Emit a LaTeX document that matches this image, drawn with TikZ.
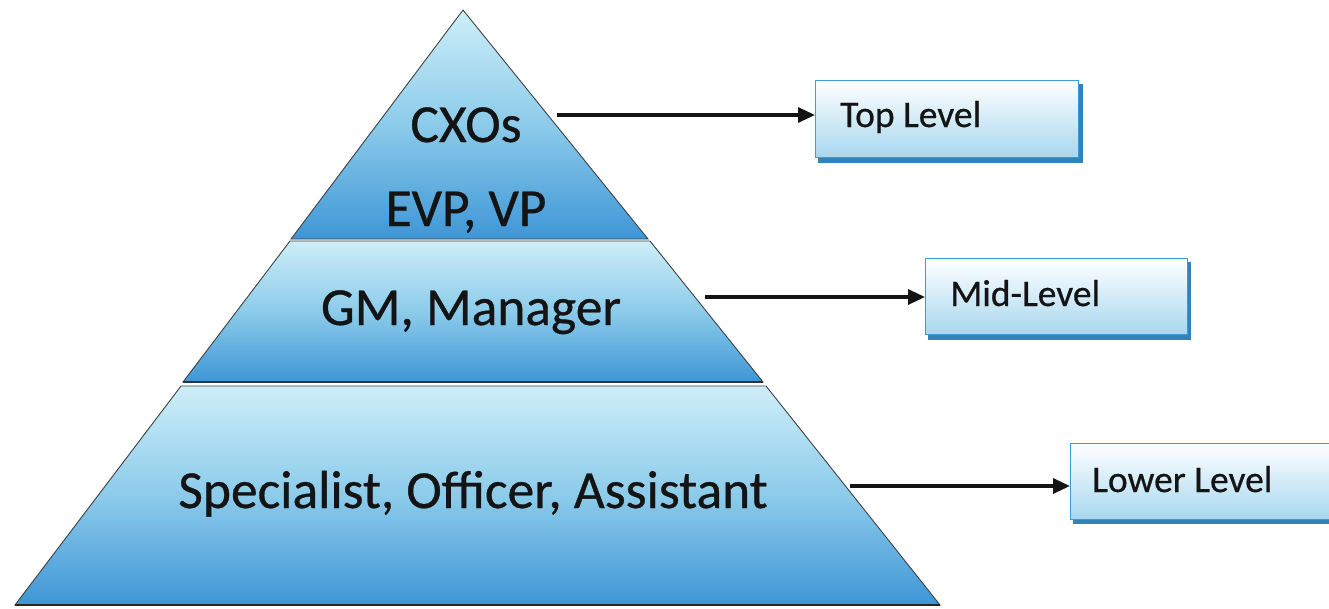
\documentclass[tikz,border=0pt]{standalone}
\usepackage{fontspec}
\setmainfont{Carlito}
\newfontfamily\heavyfont[FakeBold=0.6]{Carlito}
\usetikzlibrary{arrows.meta}
\definecolor{tiertop}{HTML}{CDEEF8}
\definecolor{tiermid}{HTML}{8CCBEA}
\definecolor{tierbot}{HTML}{3E96D6}
\definecolor{boxblue}{HTML}{3A9ADA}
\definecolor{boxfill}{HTML}{A6D7EF}
\definecolor{inkc}{HTML}{141414}
\begin{document}
\begin{tikzpicture}[x=1pt,y=-1pt,
  tier/.style={draw=black!75, line width=0.9pt, top color=tiertop, bottom color=tierbot, middle color=tiermid},
  lvl/.style={font=\heavyfont\fontsize{53.5}{53.5}\selectfont, text=inkc, anchor=base, inner sep=0pt},
  lbl/.style={font=\heavyfont\fontsize{37.5}{37.5}\selectfont, text=inkc, anchor=base west, inner sep=0pt},
  lvlbox/.style={draw=boxblue, line width=1.3pt, top color=white, bottom color=boxfill, anchor=north west, inner sep=0pt},
  boxshadow/.style={fill=boxblue!85!black, draw=none},
  conn/.style={-{Triangle[length=17pt,width=15pt]}, line width=3.2pt, draw=inkc}
]
\useasboundingbox (0,0) rectangle (1329,608);
\fill[white] (0,0) rectangle (1329,608);

% pyramid tiers
\path[tier] (463,10) -- (648,239) -- (291,239) -- cycle;
\path[tier] (290,241) -- (650,241) -- (763,382) -- (183,382) -- cycle;
\path[tier] (181,386) -- (766,386) -- (940,605) -- (15,605) -- cycle;
\draw[line width=2.2pt, draw=black!80] (183,382) -- (763,382);
\draw[line width=2.2pt, draw=black!85] (15,605) -- (940,605);

% level texts
\node[lvl] (cxo) at (466,142) {CXOs};
\node[lvl] (evp) at (466,226) {EVP, VP};
\node[lvl] (gm) at (471,325) {GM, Manager};
\node[lvl] (spec) at (473,508) {Specialist, Officer, Assistant};

% boxes with shadows
\fill[boxshadow] (818,84) rectangle (1083,163);
\node[lvlbox, minimum width=263pt, minimum height=77pt] (top) at (815,80) {};
\node[lbl] (toplbl) at (840,127) {Top Level};

\fill[boxshadow] (928,262) rectangle (1191,340);
\node[lvlbox, minimum width=262pt, minimum height=76pt] (mid) at (925,258) {};
\node[lbl] (midlbl) at (950,306) {Mid-Level};

\fill[boxshadow] (1073,447) rectangle (1340,524);
\node[lvlbox, minimum width=280pt, minimum height=76pt] (low) at (1070,443) {};
\node[lbl] (lowlbl) at (1092,492) {Lower Level};

% connectors
\coordinate (a1) at (557,115);
\coordinate (a2) at (705,297);
\coordinate (a3) at (850,486);
\draw[conn] (a1) -- (top.west |- a1);
\draw[conn] (a2) -- (mid.west |- a2);
\draw[conn] (a3) -- (low.west |- a3);
\end{tikzpicture}
\end{document}
